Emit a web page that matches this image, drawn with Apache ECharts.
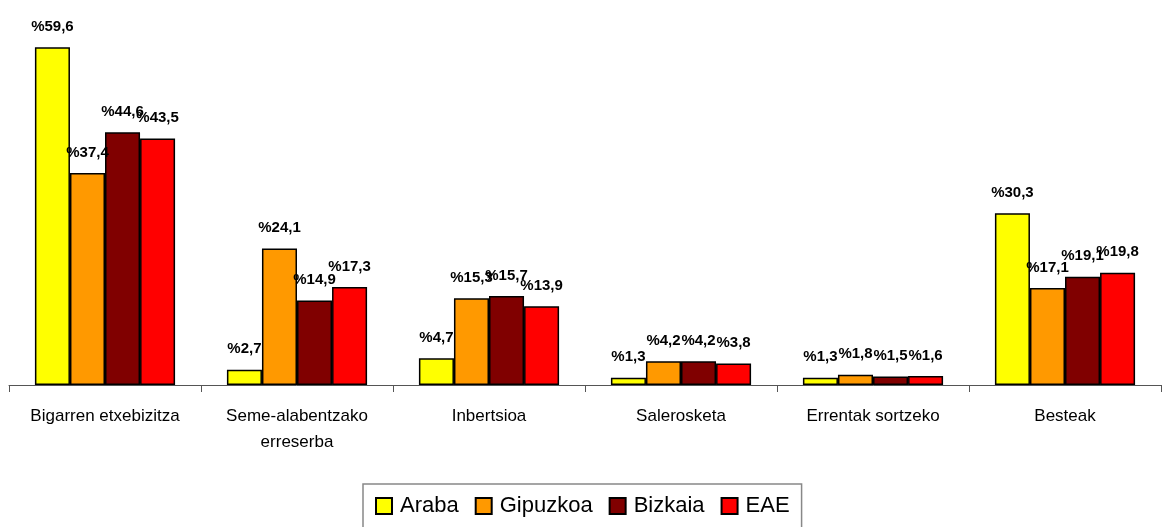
<!DOCTYPE html>
<html>
<head>
<meta charset="utf-8">
<script src="https://cdn.jsdelivr.net/npm/echarts@6/dist/echarts.min.js"></script>
<style>
    html, body { margin: 0; padding: 0; background: #fff; }
    #main { width: 1170px; height: 527px; }
</style>
</head>
<body>
<div id="main"></div>
<script>
var categories = ['Bigarren etxebizitza', 'Seme-alabentzako\nerreserba', 'Inbertsioa', 'Salerosketa', 'Errentak sortzeko', 'Besteak'];
var seriesNames = ['Araba', 'Gipuzkoa', 'Bizkaia', 'EAE'];
var araba = [59.6, 2.7, 4.7, 1.3, 1.3, 30.3];
var gipuzkoa = [37.4, 24.1, 15.3, 4.2, 1.8, 17.1];
var bizkaia = [44.6, 14.9, 15.7, 4.2, 1.5, 19.1];
var eae = [43.5, 17.3, 13.9, 3.8, 1.6, 19.8];
var colors = ['#ffff00', '#ff9900', '#800000', '#ff0000'];

var chart = echarts.init(document.getElementById('main'));

// etiketak: %59,6
function pct(p) {
    return '%' + String(p.value).replace('.', ',');
}

var allData = [araba, gipuzkoa, bizkaia, eae];
var series = [];
allData.forEach(function (d, i) {
    series.push({
        name: seriesNames[i],
        type: 'bar',
        data: d,
        barGap: '0%',
        barCategoryGap: '27%',
        itemStyle: {
            color: colors[i],
            borderColor: '#000',
            borderWidth: 1.5
        },
        label: {
            show: true,
            position: 'top',
            distance: 13,
            formatter: pct,
            fontFamily: 'Liberation Sans, Arial',
            fontWeight: 'bold',
            fontSize: 15,
            color: '#000'
        },
        labelLayout: {
            moveOverlap: 'shiftY'
        }
    });
});

var option = {
    animation: false,
    backgroundColor: '#fff',
    grid: {
        left: 9,
        right: 9,
        top: 45,
        bottom: 142
    },
    legend: {
        top: 484,
        left: 363,
        data: seriesNames,
        icon: 'rect',
        itemWidth: 16,
        itemHeight: 16,
        itemGap: 16,
        padding: [11, 12, 30, 12],
        borderColor: '#888',
        borderWidth: 1.5,
        borderRadius: 0,
        textStyle: {
            fontFamily: 'Liberation Sans, Arial',
            fontSize: 22,
            color: '#000',
            padding: [0, 0, 0, 3]
        }
    },
    xAxis: {
        type: 'category',
        data: categories,
        axisLine: { lineStyle: { color: '#555', width: 1 } },
        axisTick: { show: true, length: 7, lineStyle: { color: '#555' } },
        axisLabel: {
            interval: 0,
            margin: 18,
            lineHeight: 26,
            fontFamily: 'Liberation Sans, Arial',
            fontSize: 17,
            color: '#000'
        }
    },
    yAxis: {
        type: 'value',
        min: 0,
        max: 60,
        show: false
    },
    series: series
};
chart.setOption(option);
</script>
</body>
</html>
